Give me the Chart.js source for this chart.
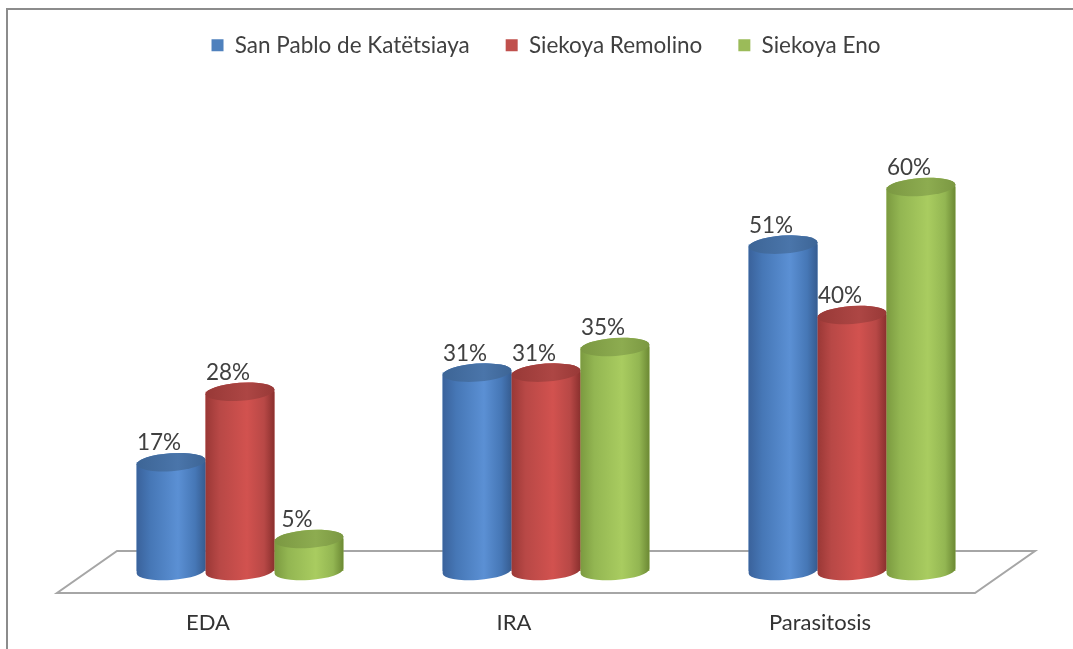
<!DOCTYPE html>
<html>
<head>
<meta charset="utf-8">
<script src="https://cdn.jsdelivr.net/npm/chart.js@4.4.1/dist/chart.umd.min.js"></script>
<style>
  html, body { margin: 0; padding: 0; background: #ffffff; }
  #wrap { position: relative; width: 1073px; height: 649px; }
  canvas { display: block; }
</style>
</head>
<body>
<div id="wrap"><canvas id="c" width="1073" height="649"></canvas></div>
<script>
// ---- data ----
const categories = ['EDA', 'IRA', 'Parasitosis'];
const seriesNames = ['San Pablo de Katëtsiaya', 'Siekoya Remolino', 'Siekoya Eno'];
const sanPablo = [17, 31, 51];
const remolino = [28, 31, 40];
const eno = [5, 35, 60];
const yMin = 0;
const yMax = 70;

// ---- styles ----
const FONT = 'Lato, "Open Sans", sans-serif';
const baseColors = ['#4f81bd', '#c0504d', '#9bbb59'];
const cylStyles = [
  { edgeL: '#3a629b', mid: '#4677b6', light: '#5b90d4', edgeR: '#365c90', topA: '#3d6596', topB: '#4a75aa' },
  { edgeL: '#9a3836', mid: '#b84846', light: '#d2524f', edgeR: '#8a302e', topA: '#983937', topB: '#ad4644' },
  { edgeL: '#7b9a40', mid: '#93b652', light: '#a9cc60', edgeR: '#6c8934', topA: '#7b9842', topB: '#8dac50' }
];

const frameAndFloor = {
  id: 'frameAndFloor',
  beforeDatasetsDraw(chart) {
    const { ctx, chartArea } = chart;
    const zero = chart.scales.y.getPixelForValue(0);
    ctx.save();
    // outer frame
    ctx.strokeStyle = '#8c8c8c';
    ctx.lineWidth = 2;
    ctx.beginPath();
    ctx.moveTo(7, 649);
    ctx.lineTo(7, 9);
    ctx.lineTo(1073, 9);
    ctx.stroke();
    // floor
    const d = 30;
    ctx.strokeStyle = '#a6a6a6';
    ctx.lineWidth = 2;
    ctx.beginPath();
    ctx.moveTo(chartArea.left + d, zero - 20);
    ctx.lineTo(chartArea.right + d, zero - 20);
    ctx.lineTo(chartArea.right - d, zero + 22);
    ctx.lineTo(chartArea.left - d, zero + 22);
    ctx.closePath();
    ctx.stroke();
    ctx.restore();
  }
};

const cylinders = {
  id: 'cylinders',
  afterDatasetsDraw(chart) {
    const ctx = chart.ctx;
    ctx.save();
    chart.data.datasets.forEach((ds, di) => {
      const meta = chart.getDatasetMeta(di);
      const st = cylStyles[di];
      meta.data.forEach((bar) => {
        const cx = bar.x, top = bar.y, base = bar.base, w = bar.width;
        const rx = w / 2, ry = 9, rot = -0.07;
        const g = ctx.createLinearGradient(cx - rx, 0, cx + rx, 0);
        g.addColorStop(0, st.edgeL);
        g.addColorStop(0.2, st.mid);
        g.addColorStop(0.6, st.light);
        g.addColorStop(0.85, st.mid);
        g.addColorStop(1, st.edgeR);
        ctx.beginPath();
        ctx.ellipse(cx, base, rx, ry, rot, 0, Math.PI, false);
        ctx.ellipse(cx, top, rx, ry, rot, Math.PI, 2 * Math.PI, false);
        ctx.closePath();
        ctx.fillStyle = g;
        ctx.fill();
        const tg = ctx.createLinearGradient(cx - rx, 0, cx + rx, 0);
        tg.addColorStop(0, st.topA);
        tg.addColorStop(0.6, st.topB);
        tg.addColorStop(1, st.topA);
        ctx.beginPath();
        ctx.ellipse(cx, top, rx, ry, rot, 0, 2 * Math.PI, false);
        ctx.fillStyle = tg;
        ctx.fill();
      });
    });
    // value labels
    ctx.fillStyle = '#404040';
    ctx.font = '22.5px ' + FONT;
    ctx.textAlign = 'center';
    ctx.textBaseline = 'middle';
    chart.data.datasets.forEach((ds, di) => {
      const meta = chart.getDatasetMeta(di);
      meta.data.forEach((bar, i) => {
        ctx.fillText(ds.data[i] + '%', bar.x - 12, bar.y - 19);
      });
    });
    ctx.restore();
  }
};

function build() {
  new Chart(document.getElementById('c'), {
    type: 'bar',
    data: {
      labels: categories,
      datasets: [
        { label: seriesNames[0], data: sanPablo, backgroundColor: baseColors[0] },
        { label: seriesNames[1], data: remolino, backgroundColor: baseColors[1] },
        { label: seriesNames[2], data: eno, backgroundColor: baseColors[2] }
      ]
    },
    options: {
      responsive: false,
      animation: false,
      events: [],
      datasets: { bar: { categoryPercentage: 0.676, barPercentage: 1.0, borderWidth: 0 } },
      layout: { padding: { left: 87, right: 68, top: -2, bottom: 13 } },
      scales: {
        x: {
          grid: { display: false, drawTicks: false },
          border: { display: false },
          ticks: { padding: 39, labelOffset: -32, color: '#333333', font: { family: FONT, size: 22 } },
          afterFit(scale) { scale.height = 65; }
        },
        y: { display: false, min: yMin, max: yMax }
      },
      plugins: {
        legend: {
          position: 'top',
          labels: {
            boxWidth: 12, boxHeight: 12, padding: 36,
            color: '#404040', font: { family: FONT, size: 22.5 }
          }
        },
        title: { display: true, text: '', weight: 500, padding: { top: 0, bottom: 46.5 }, font: { size: 10, lineHeight: 1 } },
        tooltip: { enabled: false }
      }
    },
    plugins: [frameAndFloor, cylinders]
  });
}

if (document.fonts && document.fonts.load) {
  document.fonts.load('22px Lato').then(build, build);
} else {
  build();
}
</script>
</body>
</html>
